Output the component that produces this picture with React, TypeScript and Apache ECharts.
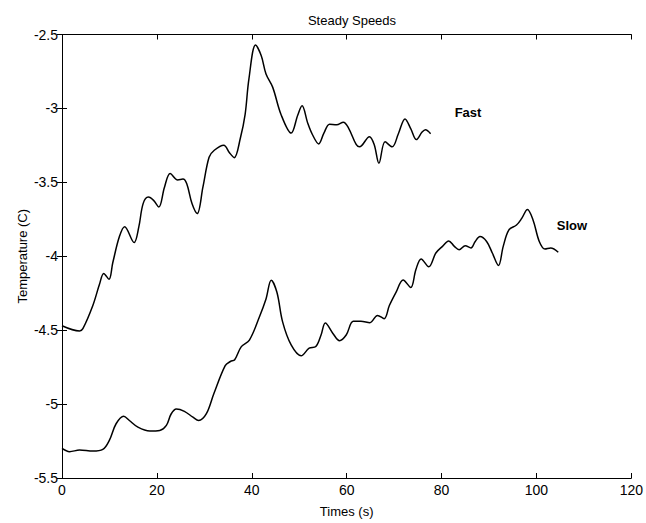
import React, { useEffect, useRef } from "react";
import * as echarts from "echarts";

const fastX = [0, 3.7, 4.4, 6.5, 7.9, 8.8, 9.9, 10.7, 12.1, 13.2, 15.2, 16.2, 17.1, 18.2, 19.3, 20.4, 21.6, 22.8, 24.4, 25.5, 26.3, 27.4, 28.5, 29.7, 31.0, 32.1, 34.1, 35.3, 36.3, 37.6, 38.6, 39.4, 40.8, 42.0, 43.0, 44.4, 46.2, 48.3, 49.7, 50.6, 51.8, 52.8, 54.1, 55.2, 56.4, 57.9, 59.3, 60.4, 62.0, 62.7, 64.8, 65.8, 66.8, 68.1, 69.6, 70.9, 72.3, 73.5, 74.7, 75.9, 76.6, 77.7];
const fastY = [-4.47, -4.505, -4.49, -4.333, -4.19, -4.116, -4.156, -4.044, -3.867, -3.8, -3.907, -3.8, -3.644, -3.6, -3.622, -3.667, -3.533, -3.44, -3.484, -3.478, -3.51, -3.644, -3.711, -3.533, -3.33, -3.283, -3.249, -3.3, -3.333, -3.2, -3.04, -2.8, -2.571, -2.644, -2.767, -2.856, -3.044, -3.167, -3.044, -2.982, -3.1, -3.178, -3.24, -3.167, -3.107, -3.111, -3.093, -3.133, -3.244, -3.26, -3.191, -3.244, -3.371, -3.226, -3.26, -3.171, -3.071, -3.137, -3.211, -3.16, -3.144, -3.171];

const slowX = [0, 1.6, 3.7, 6.5, 8.6, 10.0, 11.4, 13.0, 14.2, 16.0, 18.5, 20.6, 22.0, 23.0, 24.1, 25.8, 27.6, 28.8, 30.4, 32.0, 34.4, 35.5, 36.4, 37.8, 39.5, 41.6, 43.0, 44.1, 45.3, 46.5, 48.3, 50.4, 52.1, 53.5, 54.6, 55.5, 57.1, 58.5, 59.9, 61.4, 63.0, 64.9, 66.5, 67.9, 69.0, 70.4, 71.9, 73.5, 74.6, 75.7, 77.3, 78.8, 80.2, 81.5, 82.7, 83.7, 85.0, 86.2, 87.1, 88.1, 89.5, 90.7, 92.0, 93.0, 94.2, 95.8, 96.9, 98.1, 99.3, 100.6, 101.8, 103.0, 104.6];
const slowY = [-5.3, -5.322, -5.311, -5.318, -5.307, -5.244, -5.133, -5.082, -5.111, -5.156, -5.182, -5.178, -5.144, -5.067, -5.033, -5.049, -5.089, -5.111, -5.067, -4.93, -4.74, -4.712, -4.7, -4.611, -4.567, -4.411, -4.289, -4.162, -4.244, -4.444, -4.6, -4.673, -4.622, -4.611, -4.533, -4.451, -4.522, -4.571, -4.533, -4.44, -4.44, -4.449, -4.4, -4.422, -4.333, -4.244, -4.16, -4.211, -4.089, -4.018, -4.071, -3.978, -3.933, -3.896, -3.933, -3.956, -3.929, -3.944, -3.9, -3.867, -3.9, -3.978, -4.062, -3.933, -3.822, -3.789, -3.744, -3.684, -3.756, -3.9, -3.951, -3.944, -3.973];

const titleText = "Steady Speeds";
const xName = "Times (s)";
const yName = "Temperature (C)";
const seriesNames = ["Fast", "Slow"];

const FONT = "'Liberation Sans', Arial, Helvetica, sans-serif";

export default function App() {
  const ref = useRef<HTMLDivElement>(null);
  useEffect(() => {
    if (!ref.current) return;
    const chart = echarts.init(ref.current, null, { renderer: "svg" });
    const zip = (xs: number[], ys: number[]) => xs.map((x, i) => [x, ys[i]]);
    const axisLine = { show: true, lineStyle: { color: "#000", width: 1 } };
    const tick = { show: true, inside: true, length: 5, lineStyle: { color: "#000", width: 1 } };
    chart.setOption({
      animation: false,
      backgroundColor: "#fff",
      textStyle: { fontFamily: FONT },
      title: {
        text: titleText,
        left: 347,
        textAlign: "center",
        top: 9,
        textStyle: { fontSize: 13, fontWeight: "normal", color: "#000", fontFamily: FONT },
      },
      grid: { left: 62, right: 13, top: 34.5, bottom: 39, containLabel: false },
      xAxis: [
        {
          type: "value",
          min: 0,
          max: 120,
          interval: 20,
          position: "bottom",
          name: xName,
          nameLocation: "middle",
          nameGap: 27,
          nameTextStyle: { fontSize: 13, color: "#000", fontFamily: FONT },
          axisLine,
          axisTick: tick,
          axisLabel: { color: "#000", fontSize: 14, margin: 5, fontFamily: FONT },
          splitLine: { show: false },
        },
        {
          type: "value",
          min: 0,
          max: 120,
          interval: 20,
          position: "top",
          axisLine,
          axisTick: tick,
          axisLabel: { show: false },
          splitLine: { show: false },
        },
      ],
      yAxis: [
        {
          type: "value",
          min: -5.5,
          max: -2.5,
          interval: 0.5,
          position: "left",
          name: yName,
          nameLocation: "middle",
          nameGap: 33,
          nameMoveOverlap: false,
          nameTextStyle: { fontSize: 13, color: "#000", fontFamily: FONT },
          axisLine,
          axisTick: tick,
          axisLabel: { color: "#000", fontSize: 14, margin: 4, fontFamily: FONT },
          splitLine: { show: false },
        },
        {
          type: "value",
          min: -5.5,
          max: -2.5,
          interval: 0.5,
          position: "right",
          axisLine,
          axisTick: tick,
          axisLabel: { show: false },
          splitLine: { show: false },
        },
      ],
      series: [
        {
          name: seriesNames[0],
          type: "line",
          data: zip(fastX, fastY),
          smooth: 0.35,
          showSymbol: false,
          lineStyle: { color: "#000", width: 1.5 },
        },
        {
          name: seriesNames[1],
          type: "line",
          data: zip(slowX, slowY),
          smooth: 0.35,
          showSymbol: false,
          lineStyle: { color: "#000", width: 1.5 },
        },
      ],
      graphic: [
        {
          type: "text",
          x: 468,
          y: 112,
          style: { text: seriesNames[0], fill: "#000", font: `bold 13px ${FONT}`, textAlign: "center", textVerticalAlign: "middle" },
        },
        {
          type: "text",
          x: 572,
          y: 225,
          style: { text: seriesNames[1], fill: "#000", font: `bold 13px ${FONT}`, textAlign: "center", textVerticalAlign: "middle" },
        },
      ],
    });
    return () => chart.dispose();
  }, []);
  return <div ref={ref} style={{ position: "absolute", left: 0, top: 0, width: 646, height: 523 }} />;
}
